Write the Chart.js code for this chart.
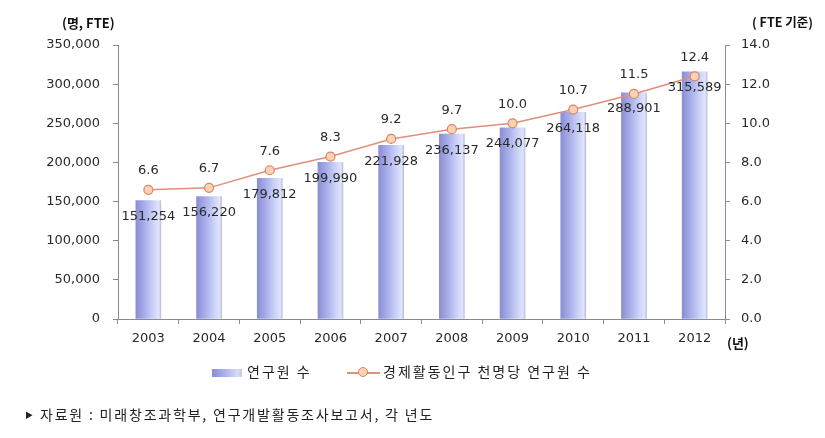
<!DOCTYPE html>
<html><head><meta charset="utf-8">
<script src="https://cdn.jsdelivr.net/npm/chart.js@4.4.1/dist/chart.umd.min.js"></script>
<style>
html,body{margin:0;padding:0;background:#fff;}
#wrap{position:relative;width:825px;height:438px;overflow:hidden;}
canvas{position:absolute;left:0;top:0;}
.t{position:absolute;font-family:"Noto Sans CJK KR","Noto Sans",sans-serif;white-space:nowrap;color:#111;line-height:1;}
</style></head><body>
<div id="wrap">
<canvas id="c" width="825" height="438"></canvas>
<div class="t" style="left:62px;top:16px;font-weight:bold;font-size:13px;">(명, FTE)</div>
<div class="t" style="left:752px;top:16px;font-weight:bold;font-size:12.5px;">( FTE 기준)</div>
<div class="t" style="left:727px;top:336px;font-weight:bold;font-size:13px;">(년)</div>
<div style="position:absolute;left:212px;top:369px;width:30px;height:8px;background:linear-gradient(to right,#8a8ed2,#a9aeea 40%,#d5dcfa 85%,#c4c9e6);"></div>
<div class="t" style="left:247px;top:364px;font-size:14px;letter-spacing:2px;color:#222;">연구원 수</div>
<div style="position:absolute;left:347px;top:372px;width:33px;height:1.5px;background:#e08f7a;"></div>
<div style="position:absolute;left:358px;top:367px;width:8px;height:8px;border-radius:50%;background:#fcd3b0;border:1px solid #d8836c;"></div>
<div class="t" style="left:383px;top:364px;font-size:14px;letter-spacing:2px;color:#222;">경제활동인구 천명당 연구원 수</div>
<div class="t" style="left:25px;top:411px;font-size:8px;color:#222;">▶</div>
<div class="t" style="left:40px;top:407px;font-size:14px;letter-spacing:1.8px;color:#222;">자료원 : 미래창조과학부, 연구개발활동조사보고서, 각 년도</div>
</div>
<script>
const years = ['2003','2004','2005','2006','2007','2008','2009','2010','2011','2012'];
const researchers = [151254,156220,179812,199990,221928,236137,244077,264118,288901,315589];
const perThousand = [6.6,6.7,7.6,8.3,9.2,9.7,10.0,10.7,11.5,12.4];
const leftTicks = [0,50000,100000,150000,200000,250000,300000,350000];
const rightTicks = [0,2,4,6,8,10,12,14];

const fmt = v => v.toLocaleString('en-US');
const FONT = {family:'"DejaVu Sans"', size:13};

const labelPlugin = {
  id:'lbl',
  afterDatasetsDraw(chart){
    const ctx = chart.ctx;
    ctx.save();
    ctx.font = '13px "DejaVu Sans"';
    ctx.fillStyle = '#2a2a2a';
    ctx.textAlign = 'center';
    ctx.textBaseline = 'middle';
    chart.getDatasetMeta(0).data.forEach((el,i)=>{ ctx.fillText(fmt(researchers[i]), el.x, el.y+16); });
    chart.getDatasetMeta(1).data.forEach((el,i)=>{ ctx.fillText(perThousand[i].toFixed(1), el.x, el.y-19); });
    ctx.restore();
  }
};

function barFill(c){
  const ch = c.chart, xs = ch.scales && ch.scales.x;
  if (!xs || c.dataIndex === undefined) return '#b0b6ea';
  const cx = xs.getPixelForValue(c.dataIndex);
  if (!isFinite(cx)) return '#b0b6ea';
  const g = ch.ctx.createLinearGradient(cx-12.5,0,cx+12.5,0);
  g.addColorStop(0,'#8a8ed2');
  g.addColorStop(0.35,'#a9aeea');
  g.addColorStop(0.72,'#cdd4f8');
  g.addColorStop(0.92,'#dfe5fc');
  g.addColorStop(1,'#b9bedf');
  return g;
}

new Chart(document.getElementById('c'), {
  data:{
    labels: years,
    datasets:[
      {type:'bar', label:'연구원 수', data: researchers, yAxisID:'y', backgroundColor: barFill, borderWidth:0, barThickness:25, order:2},
      {type:'line', label:'경제활동인구 천명당 연구원 수', data: perThousand, yAxisID:'y1', borderColor:'#e08f7a', borderWidth:1.5,
       pointRadius:4.5, pointBackgroundColor:'#fcd3b0', pointBorderColor:'#d8836c', pointBorderWidth:1.2, tension:0, order:1}
    ]
  },
  options:{
    responsive:false, animation:false,
    layout:{padding:{top:45,left:0,right:0,bottom:89}},
    plugins:{legend:{display:false}, tooltip:{enabled:false}},
    scales:{
      x:{
        grid:{offset:true, drawOnChartArea:false, drawTicks:true, tickLength:5, color:'#8a8a8a'},
        border:{color:'#8a8a8a'},
        ticks:{font:FONT, color:'#2a2a2a', padding:7},
        afterFit:s=>{s.height=30;}
      },
      y:{
        position:'left', min:0, max:350000,
        afterBuildTicks:s=>{s.ticks = leftTicks.map(v=>({value:v}));},
        grid:{drawOnChartArea:false, drawTicks:true, tickLength:5, color:'#8a8a8a'},
        border:{color:'#8a8a8a'},
        ticks:{font:FONT, color:'#2a2a2a', padding:13, callback:v=>fmt(v)},
        afterFit:s=>{s.width=118;}
      },
      y1:{
        position:'right', min:0, max:14,
        afterBuildTicks:s=>{s.ticks = rightTicks.map(v=>({value:v}));},
        grid:{drawOnChartArea:false, drawTicks:true, tickLength:5, color:'#8a8a8a'},
        border:{color:'#8a8a8a'},
        ticks:{font:FONT, color:'#2a2a2a', padding:11, callback:v=>Number(v).toFixed(1)},
        afterFit:s=>{s.width=100;}
      }
    }
  },
  plugins:[labelPlugin]
});
</script>
</body></html>
